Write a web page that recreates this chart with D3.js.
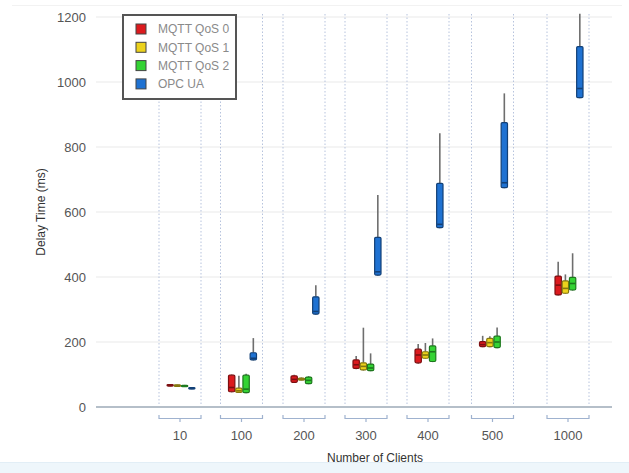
<!DOCTYPE html>
<html>
<head>
<meta charset="utf-8">
<script src="https://cdn.jsdelivr.net/npm/d3@7/dist/d3.min.js"></script>
<style>
  html, body { margin: 0; padding: 0; background: #fff; }
  svg { display: block; font-family: "Liberation Sans", Arial, sans-serif; }
</style>
</head>
<body>
<svg id="chart" width="629" height="473"></svg>
<script>
// Client counts on the x axis
const clients = ["10", "100", "200", "300", "400", "500", "1000"];
// Protocol series drawn side by side inside each client group
const seriesNames = ["MQTT QoS 0", "MQTT QoS 1", "MQTT QoS 2", "OPC UA"];
const seriesColors = ["#dc1a1e", "#ecd21c", "#34d334", "#1f72d2"];
// Y axis ticks (ms)
const yTicks = [0, 200, 400, 600, 800, 1000, 1200];

// Five-number summaries per client count: [min, q1, median, q3, max] in ms
const qos0 = [[64, 65, 67, 69, 70], [45, 47, 60, 98, 100], [74, 76, 85, 96, 99], [116, 119, 130, 145, 157], [133, 136, 160, 178, 194], [184, 186, 192, 201, 219], [343, 345, 375, 403, 447]];
const qos1 = [[63, 64, 66, 68, 69], [43, 45, 50, 58, 96], [82, 83, 86, 89, 91], [112, 114, 125, 136, 244], [148, 150, 160, 170, 197], [184, 186, 198, 211, 218], [348, 350, 365, 388, 408]];
const qos2 = [[62, 63, 65, 67, 68], [42, 44, 55, 98, 102], [70, 72, 82, 92, 95], [110, 112, 120, 132, 165], [138, 140, 170, 188, 211], [181, 183, 200, 218, 245], [358, 360, 380, 399, 473]];
const opcua = [[55, 56, 57, 60, 61], [143, 145, 150, 167, 212], [284, 286, 294, 339, 375], [404, 406, 416, 522, 652], [550, 552, 562, 688, 842], [673, 675, 690, 875, 965], [950, 952, 980, 1109, 1210]];

const seriesData = [qos0, qos1, qos2, opcua];

const svg = d3.select("#chart");

// Scales
const y = d3.scaleLinear().domain([0, 1200]).range([407, 17]);
const xGroup = d3.scaleOrdinal()
  .domain(clients)
  .range([180, 241.5, 304, 366, 428, 492.5, 568]);
const groupHalf = 21;
const xInner = d3.scaleBand()
  .domain(seriesNames)
  .range([-13, 15])
  .paddingInner(0.12);

// Bottom strip
svg.append("rect").attr("x", 0).attr("y", 463).attr("width", 629).attr("height", 10).attr("fill", "#eef6fb");
svg.append("line").attr("x1", 0).attr("x2", 629).attr("y1", 462.5).attr("y2", 462.5).attr("stroke", "#e2eef6");
svg.append("line").attr("x1", 12).attr("x2", 622).attr("y1", 5.5).attr("y2", 5.5).attr("stroke", "#f2f2f2");

// Horizontal grid lines
svg.append("g")
  .selectAll("line")
  .data(yTicks.filter(d => d > 0))
  .join("line")
  .attr("x1", 96).attr("x2", 612)
  .attr("y1", d => y(d)).attr("y2", d => y(d))
  .attr("stroke", "#f0f0f0")
  .attr("stroke-width", 1.5);

// Dotted group boundaries
const bounds = svg.append("g");
clients.forEach(c => {
  [-groupHalf, groupHalf].forEach(off => {
    bounds.append("line")
      .attr("x1", xGroup(c) + off).attr("x2", xGroup(c) + off)
      .attr("y1", 14).attr("y2", y(0))
      .attr("stroke", "#b6c3dd")
      .attr("stroke-width", 1)
      .attr("stroke-dasharray", "1.5,2");
  });
});

// Y axis labels (no axis line or ticks)
const yAxis = d3.axisLeft(y).tickValues(yTicks).tickFormat(d3.format("d")).tickSize(0).tickPadding(0);
const yg = svg.append("g").attr("transform", "translate(86,0)").call(yAxis);
yg.select(".domain").remove();
yg.selectAll("text").attr("font-size", 13).attr("fill", "#555").attr("font-family", "Liberation Sans, Arial, sans-serif");

// Baseline
svg.append("line")
  .attr("x1", 96).attr("x2", 612)
  .attr("y1", y(0)).attr("y2", y(0))
  .attr("stroke", "#b5bfc9").attr("stroke-width", 2);

// Group brackets and client labels
const brackets = svg.append("g").attr("stroke", "#9fb2cf").attr("fill", "none").attr("stroke-width", 1.2);
clients.forEach(c => {
  const cx = xGroup(c);
  brackets.append("path")
    .attr("d", `M${cx - groupHalf},415 V418.5 H${cx + groupHalf} V415 M${cx},418.5 V422`);
});
svg.append("g")
  .selectAll("text")
  .data(clients)
  .join("text")
  .attr("x", d => xGroup(d))
  .attr("y", 440)
  .attr("text-anchor", "middle")
  .attr("font-size", 13)
  .attr("fill", "#555")
  .text(d => d);

// Axis titles
svg.append("text")
  .attr("x", 375).attr("y", 462)
  .attr("text-anchor", "middle")
  .attr("font-size", 12)
  .attr("fill", "#333")
  .text("Number of Clients");
svg.append("text")
  .attr("transform", "translate(45,212) rotate(-90)")
  .attr("text-anchor", "middle")
  .attr("font-size", 12)
  .attr("fill", "#333")
  .text("Delay Time (ms)");

// Box plots
const boxes = svg.append("g");
seriesNames.forEach((name, si) => {
  const color = seriesColors[si];
  const darker = d3.color(color).darker(1.6);
  seriesData[si].forEach((s, ci) => {
    const [mn, q1, med, q3, mx] = s;
    const bw = xInner.bandwidth();
    const x0 = xGroup(clients[ci]) + xInner(name);
    const cx = x0 + bw / 2;
    const g = boxes.append("g");
    // whiskers
    g.append("line")
      .attr("x1", cx).attr("x2", cx)
      .attr("y1", y(mx)).attr("y2", y(q3))
      .attr("stroke", "#6e6e6e").attr("stroke-width", 1.6);
    g.append("line")
      .attr("x1", cx).attr("x2", cx)
      .attr("y1", y(q1)).attr("y2", y(mn))
      .attr("stroke", "#6e6e6e").attr("stroke-width", 1.6);
    // box
    g.append("rect")
      .attr("x", x0).attr("width", bw)
      .attr("y", y(q3))
      .attr("height", Math.max(1.5, y(q1) - y(q3)))
      .attr("rx", 1.2)
      .attr("fill", color)
      .attr("stroke", darker)
      .attr("stroke-width", 1.2);
    // median
    g.append("line")
      .attr("x1", x0 + 0.5).attr("x2", x0 + bw - 0.5)
      .attr("y1", y(med)).attr("y2", y(med))
      .attr("stroke", darker).attr("stroke-width", 1.6);
  });
});

// Legend
const legend = svg.append("g");
legend.append("rect")
  .attr("x", 123).attr("y", 15).attr("width", 113).attr("height", 84)
  .attr("fill", "#fff").attr("stroke", "#555").attr("stroke-width", 2);
seriesNames.forEach((name, i) => {
  const cy = 29 + i * 18.3;
  legend.append("rect")
    .attr("x", 136).attr("y", cy - 5).attr("width", 10).attr("height", 10)
    .attr("fill", seriesColors[i])
    .attr("stroke", "#444").attr("stroke-width", 1);
  legend.append("text")
    .attr("x", 158).attr("y", cy + 4.3)
    .attr("font-size", 12)
    .attr("fill", "#8a8a8a")
    .text(name);
});
</script>
</body>
</html>
